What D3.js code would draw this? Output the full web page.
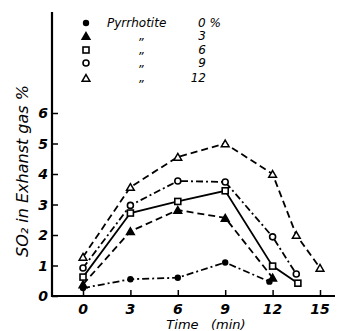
<!DOCTYPE html>
<html><head><meta charset="utf-8">
<script src="https://cdn.jsdelivr.net/npm/d3@7"></script>
<style>body{margin:0;background:#fff}svg{display:block}text{font-family:"DejaVu Sans",sans-serif;font-style:italic;fill:#000}</style>
</head><body><svg id="c" width="349" height="331"></svg>
<script>
const xTicks = [0, 3, 6, 9, 12, 15];
const yTicks = [0, 1, 2, 3, 4, 5, 6];
const legendLabels = ["Pyrrhotite", "\u201E", "\u201E", "\u201E", "\u201E"];
const legendPct = ["0 %", "3", "6", "9", "12"];
const s0_t = [0, 3, 6, 9, 11.8];
const s0_v = [0.26, 0.55, 0.6, 1.1, 0.47];
const s3_t = [0, 3, 6, 9, 12];
const s3_v = [0.38, 2.12, 2.82, 2.56, 0.6];
const s6_t = [0, 3, 6, 9, 12, 13.6];
const s6_v = [0.62, 2.72, 3.1, 3.45, 0.98, 0.42];
const s9_t = [0, 3, 6, 9, 12, 13.5];
const s9_v = [0.92, 2.97, 3.77, 3.74, 1.94, 0.72];
const s12_t = [0, 3, 6, 9, 12, 13.5, 15];
const s12_v = [1.28, 3.57, 4.56, 5.0, 4.0, 2.0, 0.92];

const series = [
  {t:s0_t, v:s0_v, marker:"fcircle", dash:"7,3,2,3"},
  {t:s3_t, v:s3_v, marker:"ftri", dash:"7,4"},
  {t:s6_t, v:s6_v, marker:"square", dash:null},
  {t:s9_t, v:s9_v, marker:"circle", dash:"7,3,2,3"},
  {t:s12_t, v:s12_v, marker:"tri", dash:"7,4"}
];

const svg = d3.select("#c");
const x = d3.scaleLinear().domain([0, 15]).range([83, 320]);
const y = d3.scaleLinear().domain([0, 6]).range([296, 113]);

svg.append("line").attr("x1",52).attr("x2",52).attr("y1",12).attr("y2",297).attr("stroke","#000").attr("stroke-width",2.2);
svg.append("line").attr("x1",51).attr("x2",335).attr("y1",296).attr("y2",296).attr("stroke","#000").attr("stroke-width",2);

const yAxis = d3.axisRight(y).tickValues(yTicks).tickSize(6).tickFormat("");
svg.append("g").attr("transform","translate(52,0)").call(yAxis)
  .call(g=>g.select(".domain").remove())
  .call(g=>g.selectAll(".tick line").attr("stroke","#000").attr("stroke-width",1.5));
yTicks.forEach(t=>{
  svg.append("text").attr("x",48).attr("y",y(t)+5).attr("text-anchor","end")
    .attr("font-size",14).attr("font-weight","bold").text(t);
});
const xAxis = d3.axisTop(x).tickValues(xTicks).tickSize(6).tickFormat("");
svg.append("g").attr("transform","translate(0,296)").call(xAxis)
  .call(g=>g.select(".domain").remove())
  .call(g=>g.selectAll(".tick line").attr("stroke","#000").attr("stroke-width",1.5));
xTicks.forEach(t=>{
  svg.append("text").attr("x",x(t)).attr("y",314).attr("text-anchor","middle")
    .attr("font-size",14).attr("font-weight","bold").text(t);
});

svg.append("text").attr("x",206).attr("y",329).attr("text-anchor","middle")
  .attr("font-size",13).attr("xml:space","preserve").text("Time   (min)");
svg.append("text").attr("transform","translate(28,171) rotate(-90)").attr("text-anchor","middle")
  .attr("font-size",16).text("SO\u2082 in Exhanst gas %");

function marker(g, type, cx, cy){
  if(type==="fcircle") g.append("circle").attr("cx",cx).attr("cy",cy).attr("r",3.2).attr("fill","#000");
  else if(type==="circle") g.append("circle").attr("cx",cx).attr("cy",cy).attr("r",3).attr("fill","#fff").attr("stroke","#000").attr("stroke-width",1.6);
  else if(type==="square") g.append("rect").attr("x",cx-3).attr("y",cy-3).attr("width",6).attr("height",6).attr("fill","#fff").attr("stroke","#000").attr("stroke-width",1.6);
  else {
    const p = d3.symbol().type(d3.symbolTriangle).size(26)();
    g.append("path").attr("d",p).attr("transform",`translate(${cx},${cy+1})`)
      .attr("fill", type==="ftri" ? "#000" : "#fff").attr("stroke","#000").attr("stroke-width",1.5);
  }
}

const line = d3.line().x(d=>x(d[0])).y(d=>y(d[1]));
series.forEach(s=>{
  const pts = s.t.map((t,i)=>[t, s.v[i]]);
  svg.append("path").attr("d",line(pts)).attr("fill","none").attr("stroke","#000")
    .attr("stroke-width",1.8).attr("stroke-dasharray",s.dash);
});
series.forEach(s=>{
  s.t.forEach((t,i)=>marker(svg, s.marker, x(t), y(s.v[i])));
});

const ly = [23, 36, 50, 63, 78];
series.forEach((s,i)=>{
  marker(svg, s.marker, 86, ly[i]);
  svg.append("text").attr("x", i===0 ? 107 : 142).attr("y", ly[i]+4)
    .attr("text-anchor", i===0 ? "start" : "middle").attr("font-size",12).text(legendLabels[i]);
  svg.append("text").attr("x", i===0 ? 198 : 206).attr("y", ly[i]+4)
    .attr("text-anchor", i===0 ? "start" : "end").attr("font-size",12).text(legendPct[i]);
});
</script></body></html>
